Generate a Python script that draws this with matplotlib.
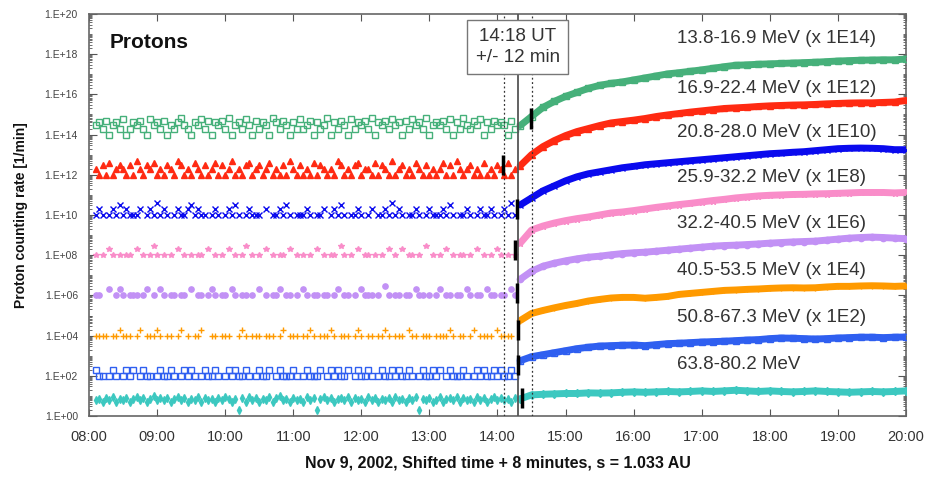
import numpy as np
import matplotlib
matplotlib.use("Agg")
import matplotlib.pyplot as plt
from matplotlib.ticker import FixedLocator, LogLocator, NullFormatter

plt.rcParams['font.family'] = ['Liberation Sans', 'DejaVu Sans']

# Channel labels, multipliers and styles (top to bottom)
labels = ["13.8-16.9 MeV (x 1E14)", "16.9-22.4 MeV (x 1E12)",
          "20.8-28.0 MeV (x 1E10)", "25.9-32.2 MeV (x 1E8)",
          "32.2-40.5 MeV (x 1E6)", "40.5-53.5 MeV (x 1E4)",
          "50.8-67.3 MeV (x 1E2)", "63.8-80.2 MeV"]
mult_exp = [14, 12, 10, 8, 6, 4, 2, 0]
colors = ["#46b07a", "#ff2a12", "#0a0aee", "#f98dc9",
          "#c291f5", "#ff9a00", "#2f5ff0", "#3cc8c0"]
label_log = [18.8, 16.27, 14.08, 11.89, 9.6, 7.26, 4.88, 2.54]

# Pre-event 1-min counts sampled every 3 min from 08:06 (hex digits, 0 = no count)
pre_start = 8.1
pre_step = 3 / 60.
green_pre = ("3425134261 2435216342 5132473214 3625143527 1342631524 3174253142 "
             "6235142371 4253162435 2714352634 1526342713 4352614273 2536142534 3152")
red_pre = ("2131412321 3152132412 1321531214 2131241312 5121341231 2412131521 "
           "3121413212 1531213412 2141321512 3121421312 1241315212 3121412132 1412")
blue_pre = ("1210121312 1112012141 2101211231 2110121012 1310121110 2011213101 "
            "1121011201 2131011210 1201121412 1011210121 1121310112 1012112101 2141")
pink_pre = ("1010210101 1020101310 1010201010 1102010102 0101301010 2010110201 "
            "0101020101 1031010201 1010102010 2011010301 0102010110 1020101021 0101")
purple_pre = ("1100201210 1110120102 1011011020 1101210110 2101101020 1011201101 "
              "0210110110 1201101021 1101031011 0110211010 1201101102 1011021101 1021")
orange_pre = ("1111011211 1012011121 0110120101 1200110111 0012101110 1110120111 "
              "0112101112 1011101210 1101121011 1021101110 1111210110 1201111021 1110")
royal_pre = ("2110121012 1201211012 1121012121 0121121012 1211210121 1201211121 "
             "0121112012 1211201211 2101211212 1121012112 1201211121 0121211212 1121")
cyan_pre = ("6758695768 5796857a68 6857968576 9586758697 5728596857 6958a67586 "
            "7596827968 5786958675 9685768596 7586927685 6957869586 7596857968 6758")
pre_strings = [green_pre, red_pre, blue_pre, pink_pre,
               purple_pre, orange_pre, royal_pre, cyan_pre]

# Post-event log10 rates (incl. multiplier), every 10 min from 14:20 to 20:00
post_start = 14 + 20 / 60.
post_step = 10 / 60.
green_post = [14.45, 14.9, 15.35, 15.65, 15.9, 16.1, 16.3, 16.45, 16.55, 16.62,
              16.72, 16.82, 16.92, 17.02, 17.08, 17.15, 17.22, 17.3, 17.38, 17.45,
              17.47, 17.5, 17.52, 17.54, 17.56, 17.58, 17.6, 17.63, 17.66, 17.68,
              17.7, 17.71, 17.72, 17.72, 17.76]
red_post = [12.45, 13.0, 13.4, 13.7, 13.95, 14.15, 14.3, 14.45, 14.58, 14.65,
            14.72, 14.8, 14.9, 14.98, 15.05, 15.12, 15.18, 15.24, 15.3, 15.33,
            15.36, 15.4, 15.43, 15.45, 15.47, 15.48, 15.5, 15.53, 15.55, 15.57,
            15.58, 15.58, 15.6, 15.62, 15.7]
blue_post = [10.5, 10.85, 11.2, 11.45, 11.7, 11.9, 12.05, 12.15, 12.25, 12.35,
             12.42, 12.5, 12.55, 12.6, 12.65, 12.7, 12.75, 12.8, 12.85, 12.9,
             12.95, 13.0, 13.05, 13.08, 13.12, 13.15, 13.2, 13.25, 13.3, 13.32,
             13.33, 13.32, 13.3, 13.25, 13.25]
pink_post = [8.6, 9.25, 9.45, 9.6, 9.72, 9.82, 9.9, 10.0, 10.1, 10.15,
             10.22, 10.3, 10.38, 10.45, 10.52, 10.58, 10.65, 10.72, 10.78, 10.85,
             10.9, 10.95, 10.98, 11.0, 11.02, 11.03, 11.05, 11.06, 11.08, 11.1,
             11.12, 11.12, 11.12, 11.1, 11.12]
purple_post = [6.8, 7.2, 7.45, 7.6, 7.72, 7.82, 7.9, 7.95, 8.02, 8.08,
               8.12, 8.15, 8.2, 8.25, 8.3, 8.35, 8.4, 8.45, 8.48, 8.5,
               8.53, 8.56, 8.6, 8.63, 8.66, 8.68, 8.7, 8.75, 8.8, 8.85,
               8.88, 8.9, 8.88, 8.85, 8.82]
orange_post = [4.75, 5.1, 5.25, 5.38, 5.5, 5.6, 5.72, 5.8, 5.87, 5.9,
               5.9, 5.86, 5.9, 5.95, 6.05, 6.1, 6.15, 6.2, 6.25, 6.27,
               6.3, 6.32, 6.35, 6.37, 6.38, 6.37, 6.38, 6.42, 6.45, 6.45,
               6.47, 6.48, 6.47, 6.45, 6.47]
royal_post = [2.75, 2.95, 3.05, 3.15, 3.25, 3.35, 3.42, 3.48, 3.5, 3.52,
              3.53, 3.5, 3.55, 3.6, 3.62, 3.65, 3.68, 3.7, 3.72, 3.75,
              3.78, 3.8, 3.85, 3.88, 3.87, 3.85, 3.83, 3.85, 3.88, 3.9,
              3.92, 3.92, 3.9, 3.92, 3.93]
cyan_post = [0.85, 1.05, 1.08, 1.1, 1.12, 1.12, 1.15, 1.14, 1.15, 1.18,
             1.2, 1.18, 1.2, 1.22, 1.2, 1.22, 1.25, 1.22, 1.25, 1.28,
             1.25, 1.22, 1.25, 1.22, 1.2, 1.22, 1.25, 1.22, 1.2, 1.18,
             1.2, 1.22, 1.2, 1.22, 1.25]
post_logs = [green_post, red_post, blue_post, pink_post,
             purple_post, orange_post, royal_post, cyan_post]

# Onset markers (black bars): time in hours, centre log10 rate
onset_t = [14.49, 14.08, 14.29, 14.26, 14.29, 14.30, 14.30, 14.36]
onset_log = [14.8, 12.5, 10.3, 8.26, 6.1, 4.28, 2.54, 0.9]

# Release time and its uncertainty (hours)
t_release = 14.3
t_err = 0.2

markers = ["s", "^", "x", "*", "o", "+", "s", "d"]
open_mk = [True, False, False, False, False, False, True, False]

fig = plt.figure(figsize=(9.28, 4.78), dpi=100)
ax = fig.add_axes([89 / 928, 62 / 478, 817 / 928, 402 / 478])
ax.set_yscale("log")

for i in range(len(labels)):
    counts = np.array([int(c, 16) for c in pre_strings[i].replace(" ", "")],
                      dtype=float)
    counts[counts == 0] = np.nan
    t_pre = pre_start + pre_step * np.arange(len(counts))
    mfc = "none" if open_mk[i] else colors[i]
    ax.plot(t_pre, counts * 10.0 ** mult_exp[i], linestyle="none",
            marker=markers[i], ms=3.8, mfc=mfc, mec=colors[i], mew=1.0,
            color=colors[i], zorder=3)
    t_post = post_start + post_step * np.arange(len(post_logs[i]))
    ax.plot(t_post, 10.0 ** np.array(post_logs[i]), color=colors[i], lw=5,
            marker=markers[i], ms=4.5, mfc=mfc, mec=colors[i], mew=1.0,
            solid_capstyle="round", zorder=3)
    ax.vlines(onset_t[i], 10 ** (onset_log[i] - 0.5), 10 ** (onset_log[i] + 0.5),
              color="black", lw=2.5, zorder=5)
    ax.text(16.64, 10 ** label_log[i], labels[i], fontsize=13.5,
            color="#333333", va="center", ha="left", zorder=6)

ax.axvline(t_release, color="#555555", lw=1.3, zorder=4)
for tt in (t_release - t_err, t_release + t_err):
    ax.axvline(tt, color="#333333", lw=0.9, ls=(0, (1.5, 2)), zorder=4)

ax.text(t_release, 0.918, "14:18 UT\n+/- 12 min", transform=ax.get_xaxis_transform(),
        ha="center", va="center", fontsize=13.5, color="#333333", linespacing=1.3,
        bbox=dict(boxstyle="square,pad=0.45", fc="white", ec="#777777", lw=1),
        zorder=7)

ax.text(0.025, 0.93, "Protons", transform=ax.transAxes, fontsize=15,
        fontweight="bold", ha="left", va="center", color="#111111")

ax.set_xlim(8, 20)
ax.set_ylim(1, 1e20)
hours = np.arange(8, 21)
ax.set_xticks(hours)
ax.set_xticklabels(["%02d:00" % h for h in hours])
ax.yaxis.set_major_locator(FixedLocator(10.0 ** np.arange(0, 21, 2)))
ax.set_yticklabels(["1.E+%02d" % e for e in range(0, 21, 2)])
ax.yaxis.set_minor_locator(LogLocator(base=10, subs=np.arange(1, 10), numticks=200))
ax.yaxis.set_minor_formatter(NullFormatter())

ax.tick_params(axis="both", which="both", direction="in", top=True, right=True,
               color="#555555")
ax.tick_params(axis="x", which="major", length=5, labelsize=10.5, pad=10,
               labelcolor="#333333")
ax.tick_params(axis="y", which="major", length=6, labelsize=7.5, pad=8,
               labelcolor="#444444")
ax.tick_params(axis="y", which="minor", length=2.5)
for s in ax.spines.values():
    s.set_color("#666666")
    s.set_linewidth(1.2)

ax.set_xlabel("Nov 9, 2002, Shifted time + 8 minutes, s = 1.033 AU",
              fontsize=11.5, fontweight="bold", labelpad=8, color="#111111")
ax.set_ylabel("Proton counting rate [1/min]", fontsize=10, fontweight="bold",
              labelpad=12, color="#111111")

fig.savefig("out.png", dpi=100)
